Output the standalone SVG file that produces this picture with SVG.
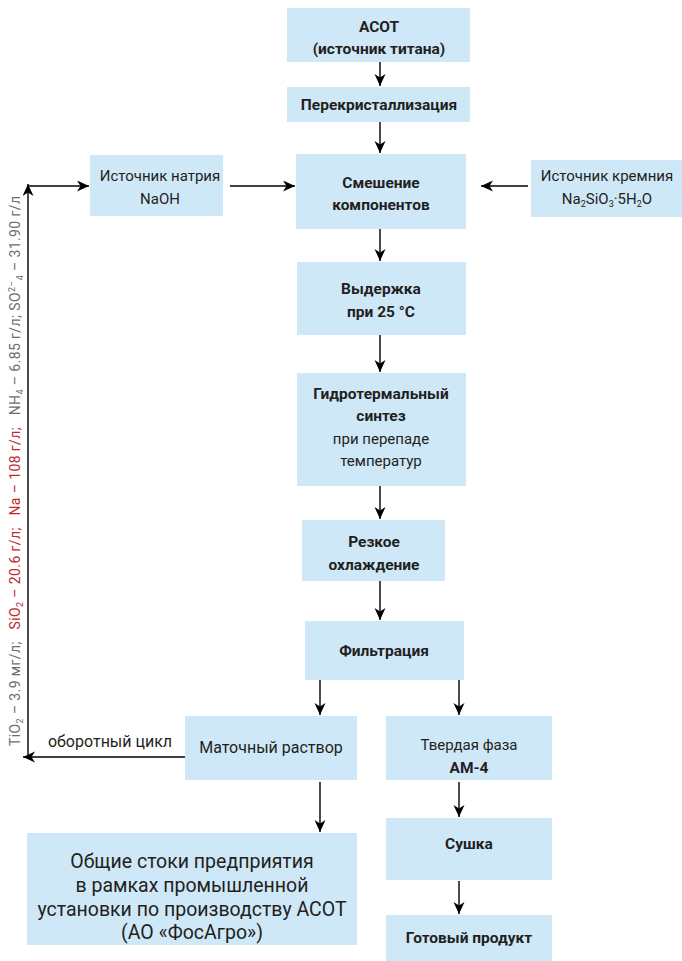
<svg xmlns="http://www.w3.org/2000/svg" width="682" height="961" viewBox="0 0 682 961">
<style>
.box{fill:#cfe8f8}
.t{font-family:Roboto,"Open Sans","DejaVu Sans",sans-serif;font-size:15px;fill:#231f20;text-anchor:middle}
.b{font-weight:bold;font-size:15.5px}
.m{font-size:16px}
.big{font-size:19.5px}
.ln{stroke:#000;stroke-width:1.4;fill:none;marker-end:url(#ah)}
.side{font-family:Roboto,"Open Sans",sans-serif;font-size:14px;white-space:pre}
.g{fill:#6d6e71}
.r{fill:#c1272d}
.s{font-size:9px}
</style>
<defs>
<marker id="ah" markerUnits="userSpaceOnUse" markerWidth="13" markerHeight="12" refX="12" refY="5.5" orient="auto">
<path d="M0,0 L12,5.5 L0,11 L3.5,5.5 z" fill="#000"/>
</marker>
</defs>

<g id="acot"><rect class="box" x="287" y="8" width="183" height="54"/>
<text class="t b" x="379" y="32">АСОТ</text><text class="t b" x="379" y="54">(источник титана)</text></g>

<g id="recryst"><rect class="box" x="287" y="87" width="183" height="35"/>
<text class="t b" x="379" y="110">Перекристаллизация</text></g>

<g id="mix"><rect class="box" x="296" y="154" width="170" height="75"/>
<text class="t b" x="381" y="188">Смешение</text><text class="t b" x="381" y="210">компонентов</text></g>

<g id="sodium"><rect class="box" x="90" y="155" width="133" height="61"/>
<text class="t" x="160" y="181">Источник натрия</text><text class="t" x="160" y="204">NaOH</text></g>

<g id="silicon"><rect class="box" x="531" y="160" width="151" height="57"/>
<text class="t" x="607" y="181">Источник кремния</text>
<text class="t" x="607" y="204">Na<tspan class="s" dy="3">2</tspan><tspan dy="-3">SiO</tspan><tspan class="s" dy="3">3</tspan><tspan dy="-3">·5H</tspan><tspan class="s" dy="3">2</tspan><tspan dy="-3">O</tspan></text></g>

<g id="hold"><rect class="box" x="297" y="262" width="169" height="73"/>
<text class="t b" x="381" y="294">Выдержка</text><text class="t b" x="381" y="317">при 25 °C</text></g>

<g id="hydro"><rect class="box" x="297" y="373" width="169" height="113"/>
<text class="t b" x="381" y="399">Гидротермальный</text><text class="t b" x="381" y="421">синтез</text>
<text class="t" x="381" y="444">при перепаде</text><text class="t" x="381" y="466">температур</text></g>

<g id="cool"><rect class="box" x="302" y="520" width="143" height="61"/>
<text class="t b" x="374" y="547">Резкое</text><text class="t b" x="374" y="570">охлаждение</text></g>

<g id="filter"><rect class="box" x="305" y="621" width="159" height="59"/>
<text class="t b" x="384" y="656">Фильтрация</text></g>

<g id="mother"><rect class="box" x="185" y="716" width="172" height="64"/>
<text class="t m" x="271" y="753">Маточный раствор</text></g>

<g id="solid"><rect class="box" x="386" y="716" width="166" height="64"/>
<text class="t" x="469" y="750">Твердая фаза</text><text class="t b" x="469" y="773">АМ-4</text></g>

<g id="drains"><rect class="box" x="27" y="833" width="330" height="112"/>
<text class="t big" x="192" y="868">Общие стоки предприятия</text>
<text class="t big" x="192" y="892">в рамках промышленной</text>
<text class="t big" x="192" y="916">установки по производству АСОТ</text>
<text class="t big" x="192" y="939">(АО «ФосАгро»)</text></g>

<g id="dry"><rect class="box" x="386" y="818" width="166" height="62"/>
<text class="t b" x="469" y="849">Сушка</text></g>

<g id="product"><rect class="box" x="386" y="915" width="166" height="46"/>
<text class="t b" x="469" y="943">Готовый продукт</text></g>

<g id="connectors">
<line class="ln" x1="380" y1="62" x2="380" y2="86"/>
<line class="ln" x1="380" y1="122" x2="380" y2="153"/>
<line class="ln" x1="230" y1="186" x2="295" y2="186"/>
<line class="ln" x1="528" y1="186" x2="481" y2="186"/>
<line class="ln" x1="380" y1="229" x2="380" y2="261"/>
<line class="ln" x1="380" y1="335" x2="380" y2="372"/>
<line class="ln" x1="380" y1="486" x2="380" y2="519"/>
<line class="ln" x1="380" y1="581" x2="380" y2="620"/>
<line class="ln" x1="320" y1="680" x2="320" y2="715"/>
<line class="ln" x1="459" y1="680" x2="459" y2="715"/>
<line class="ln" x1="320" y1="782" x2="320" y2="832"/>
<line class="ln" x1="459" y1="782" x2="459" y2="817"/>
<line class="ln" x1="459" y1="881" x2="459" y2="914"/>
<line class="ln" x1="185" y1="757" x2="23" y2="757"/>
<line class="ln" x1="28" y1="757" x2="28" y2="184"/>
<line class="ln" x1="27" y1="186" x2="89" y2="186"/>
<text class="t m" x="110" y="747">оборотный цикл</text>
</g>

<text class="side" transform="translate(20,746) rotate(-90)" textLength="550" lengthAdjust="spacing"><tspan class="g">TiO</tspan><tspan class="g s" dy="3">2</tspan><tspan class="g" dy="-3"> – 3.9 мг/л;   </tspan><tspan class="r">SiO</tspan><tspan class="r s" dy="3">2</tspan><tspan class="r" dy="-3"> – 20.6 г/л;   Na – 108 г/л;   </tspan><tspan class="g">NH</tspan><tspan class="g s" dy="3">4</tspan><tspan class="g" dy="-3"> – 6.85 г/л; SO</tspan><tspan class="g s" dy="-5">2–</tspan><tspan class="g s" dy="8">4</tspan><tspan class="g" dy="-3"> – 31.90 г/л</tspan></text>
</svg>
